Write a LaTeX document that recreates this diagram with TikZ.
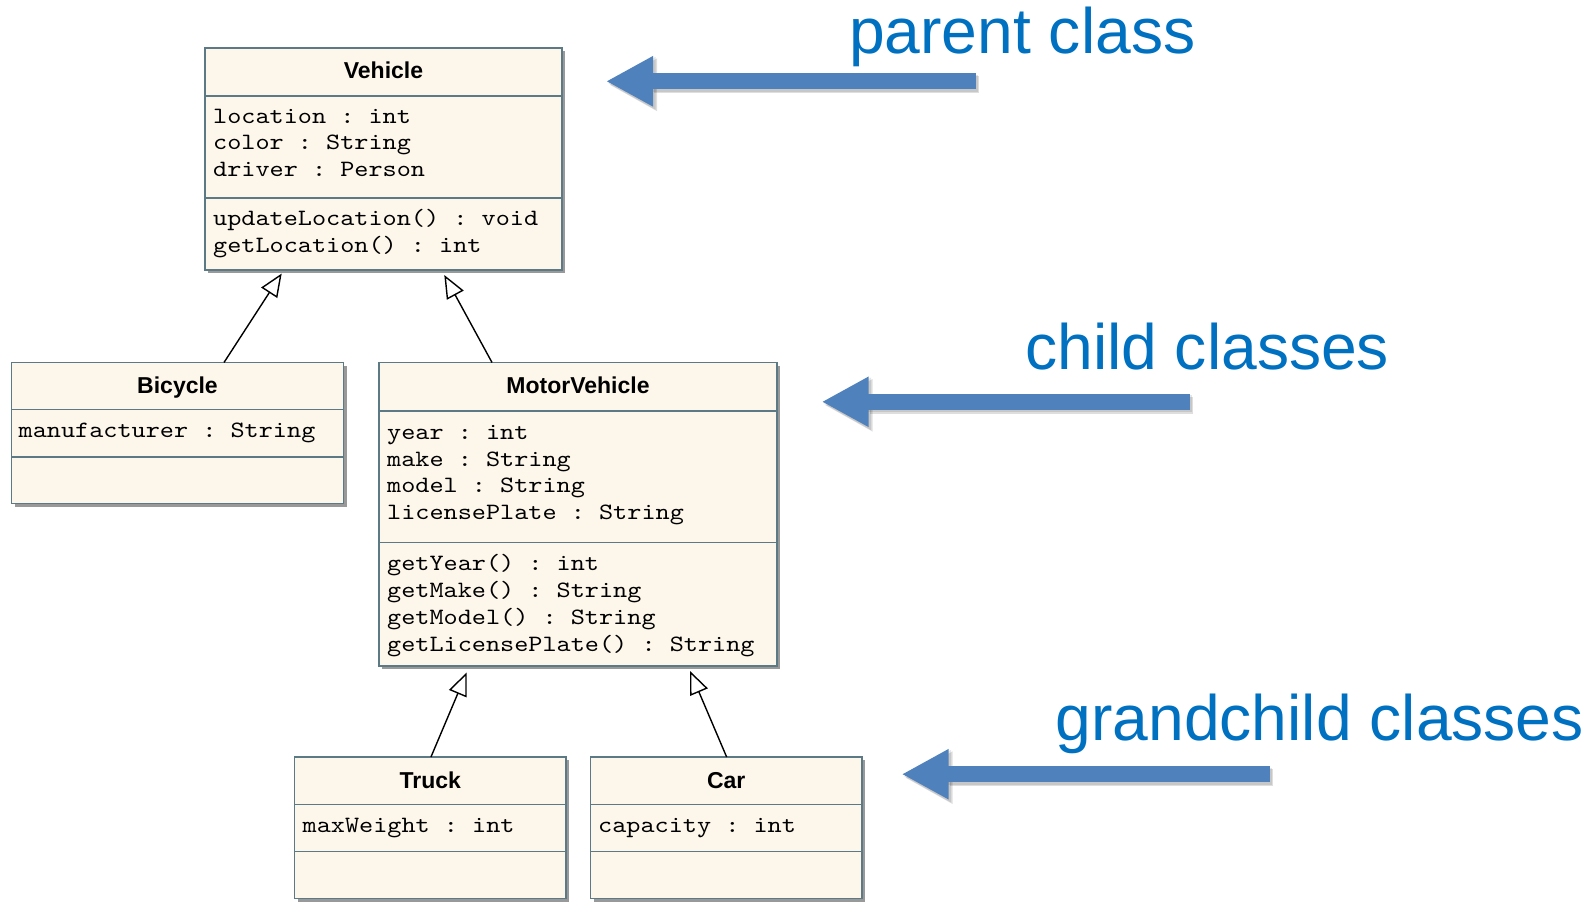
\documentclass[tikz,border=0pt]{standalone}
\usepackage{fontspec}
\setmainfont{Liberation Sans}
\newfontfamily\umlmono[FakeStretch=1.15]{lmmono10-regular.otf}
\usetikzlibrary{arrows.meta,shadows}

\definecolor{umledge}{RGB}{92,122,134}
\definecolor{umlfill}{RGB}{253,247,235}
\definecolor{notearrow}{RGB}{79,129,189}
\definecolor{notetext}{RGB}{0,112,192}

% horizontal compartment line at a given depth below the top of a class box
\newcommand\umlsep[2]{%
  \draw[umlline] ([yshift=-#2pt]#1.north west) -- ([yshift=-#2pt]#1.north east);}

\begin{document}
\begin{tikzpicture}[x=1pt,y=-1pt,
  umlbox/.style={rectangle, draw=umledge, line width=1.6pt, fill=umlfill,
    inner sep=0pt, outer sep=0pt, anchor=north west,
    drop shadow={shadow xshift=3pt, shadow yshift=-3pt, fill=black, opacity=0.4}},
  umlline/.style={draw=umledge, line width=1.6pt},
  umltitle/.style={inner sep=0pt, anchor=base, font=\fontsize{23}{26}\selectfont\bfseries},
  umltext/.style={inner sep=0pt, anchor=base west,
    font=\fontsize{23.4}{26.7}\selectfont\umlmono\frenchspacing},
  inherit/.style={draw=black, line width=1.4pt,
    -{Triangle[open, length=23pt, width=19pt, line width=1.4pt, fill=white]}},
  notearrow/.style={draw=notearrow, line width=16pt,
    -{Triangle[length=47pt, width=47pt]}},
  noteshadow/.style={draw=black, opacity=0.13, line width=17pt,
    -{Triangle[length=48pt, width=49pt]}},
  notelabel/.style={inner sep=0pt, anchor=base west, text=notetext,
    font=\fontsize{64.2}{70}\selectfont}
]
\useasboundingbox (0,0) rectangle (1593,904);

% ---------- class boxes ----------
\node[umlbox, minimum width=357pt, minimum height=222pt] (vehicle) at (205,48) {};
\umlsep{vehicle}{48}
\umlsep{vehicle}{150}
\node[umltitle] (vehicle-title) at ([yshift=-31pt]vehicle.north) {Vehicle};
\foreach \txt [count=\i from 0] in {location : int, color : String, driver : Person}
  \node[umltext] (vehicle-attr-\i) at ([xshift=8pt, yshift={-(75.3+26.7*\i)}]vehicle.north west) {\txt};
\foreach \txt [count=\i from 0] in {updateLocation() : void, getLocation() : int}
  \node[umltext] (vehicle-op-\i) at ([xshift=8pt, yshift={-(177.5+27.5*\i)}]vehicle.north west) {\txt};

\node[umlbox, minimum width=332pt, minimum height=141pt] (bicycle) at (11.5,362.5) {};
\umlsep{bicycle}{47}
\umlsep{bicycle}{94.2}
\node[umltitle] (bicycle-title) at ([yshift=-31pt]bicycle.north) {Bicycle};
\node[umltext] (bicycle-attr-0) at ([xshift=7pt, yshift=-75pt]bicycle.north west) {manufacturer : String};

\node[umlbox, minimum width=398pt, minimum height=303.5pt] (motor) at (379,362.5) {};
\umlsep{motor}{48.5}
\umlsep{motor}{179.8}
\node[umltitle] (motor-title) at ([yshift=-31pt]motor.north) {MotorVehicle};
\foreach \txt [count=\i from 0] in {year : int, make : String, model : String, licensePlate : String}
  \node[umltext] (motor-attr-\i) at ([xshift=8pt, yshift={-(76.8+26.8*\i)}]motor.north west) {\txt};
\foreach \txt [count=\i from 0] in {getYear() : int, getMake() : String, getModel() : String, getLicensePlate() : String}
  \node[umltext] (motor-op-\i) at ([xshift=8pt, yshift={-(208.2+27*\i)}]motor.north west) {\txt};

\node[umlbox, minimum width=271.5pt, minimum height=141.5pt] (truck) at (294.5,757) {};
\umlsep{truck}{47.5}
\umlsep{truck}{94.5}
\node[umltitle] (truck-title) at ([yshift=-31pt]truck.north) {Truck};
\node[umltext] (truck-attr-0) at ([xshift=8pt, yshift=-75pt]truck.north west) {maxWeight : int};

\node[umlbox, minimum width=271.5pt, minimum height=141.5pt] (car) at (590.5,757) {};
\umlsep{car}{47.5}
\umlsep{car}{94.5}
\node[umltitle] (car-title) at ([yshift=-31pt]car.north) {Car};
\node[umltext] (car-attr-0) at ([xshift=7.5pt, yshift=-75pt]car.north west) {capacity : int};

% ---------- generalisation arrows ----------
\draw[inherit] ([xshift=46.5pt]bicycle.north) -- ([xshift=-101.8pt, yshift=-3.5pt]vehicle.south);
\draw[inherit] ([xshift=-86pt]motor.north) -- ([xshift=60.8pt, yshift=-5pt]vehicle.south);
\draw[inherit] ([xshift=0.7pt]truck.north) -- ([xshift=-111.3pt, yshift=-6.5pt]motor.south);
\draw[inherit] ([xshift=0.4pt]car.north) -- ([xshift=112pt, yshift=-5pt]motor.south);

% ---------- level labels with pointer arrows ----------
\coordinate (parent-tail) at (976,81.3);
\coordinate (parent-tip) at (606,81.3);
\coordinate (child-tail) at (1190,401.8);
\coordinate (child-tip) at (821.7,401.8);
\coordinate (grand-tail) at (1270,774.2);
\coordinate (grand-tip) at (901.7,774.2);

\foreach \lvl in {parent, child, grand} {
  \draw[noteshadow, transform canvas={xshift=3pt, yshift=-3.5pt}] (\lvl-tail) -- (\lvl-tip);
  \draw[noteshadow, opacity=0.1, transform canvas={xshift=1.5pt, yshift=-2pt}] (\lvl-tail) -- (\lvl-tip);
  \draw[notearrow] (\lvl-tail) -- (\lvl-tip);
}

\node[notelabel] (parent-label) at (849,53.3) {parent class};
\node[notelabel] (child-label) at (1025,369) {child classes};
\node[notelabel] (grand-label) at (1055.5,740.7) {grandchild classes};
\end{tikzpicture}
\end{document}
